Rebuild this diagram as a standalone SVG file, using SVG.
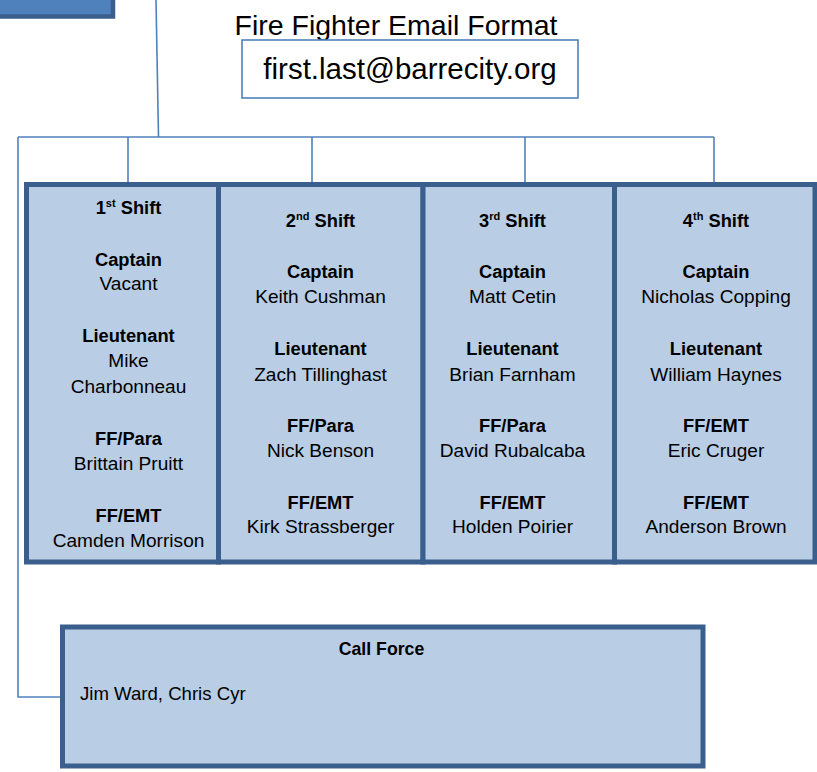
<svg xmlns="http://www.w3.org/2000/svg" width="817" height="772" viewBox="0 0 817 772">
<style>
.conn{fill:none;stroke:#4f81bd;stroke-width:1.6}
.shift{fill:#b9cde5;stroke:#3b5f8d;stroke-width:5}
.t{font-family:"Liberation Sans",Arial,sans-serif;fill:#000;text-anchor:middle}
.b{font-weight:bold;font-size:18.3px}
.n{font-size:19.1px}
.sup{font-size:11px}
</style>
<rect width="817" height="772" fill="#fff"/>
<g id="top-box">
<rect x="-10" y="-10" width="123" height="26.5" fill="#4f81bd" stroke="#3b5f8d" stroke-width="4.5"/>
</g>
<g id="connectors">
<path class="conn" d="M156,0 L158.5,137"/>
<path class="conn" d="M18,137 H714"/>
<path class="conn" d="M128,137 V183"/>
<path class="conn" d="M312,137 V183"/>
<path class="conn" d="M525,137 V183"/>
<path class="conn" d="M714,137 V183"/>
<path class="conn" d="M18,137 V697 H61"/>
</g>
<g id="email-title">
<text class="t" x="396" y="35" font-size="28.5">Fire Fighter Email Format</text>
</g>
<g id="email-box">
<rect x="242" y="40" width="336" height="58" fill="#fff" stroke="#4f81bd" stroke-width="1.6"/>
<text class="t" x="410" y="79" font-size="29.5">first.last@barrecity.org</text>
</g>
<g id="shift1">
<rect class="shift" x="26.5" y="184.5" width="192" height="377.5"/>
<text class="t b" x="128.5" y="214">1<tspan class="sup" dy="-7">st</tspan><tspan dy="7"> Shift</tspan></text>
<text class="t b" x="128.5" y="266">Captain</text>
<text class="t n" x="128.5" y="290">Vacant</text>
<text class="t b" x="128.5" y="342">Lieutenant</text>
<text class="t n" x="128.5" y="367">Mike</text>
<text class="t n" x="128.5" y="393">Charbonneau</text>
<text class="t b" x="128.5" y="445">FF/Para</text>
<text class="t n" x="128.5" y="470">Brittain Pruitt</text>
<text class="t b" x="128.5" y="522">FF/EMT</text>
<text class="t n" x="128.5" y="547">Camden Morrison</text>
</g>
<g id="shift2">
<rect class="shift" x="218.5" y="184.5" width="204.5" height="377.5"/>
<text class="t b" x="320.5" y="227">2<tspan class="sup" dy="-7">nd</tspan><tspan dy="7"> Shift</tspan></text>
<text class="t b" x="320.5" y="278">Captain</text>
<text class="t n" x="320.5" y="303">Keith Cushman</text>
<text class="t b" x="320.5" y="355">Lieutenant</text>
<text class="t n" x="320.5" y="381">Zach Tillinghast</text>
<text class="t b" x="320.5" y="432">FF/Para</text>
<text class="t n" x="320.5" y="457">Nick Benson</text>
<text class="t b" x="320.5" y="509">FF/EMT</text>
<text class="t n" x="320.5" y="533">Kirk Strassberger</text>
</g>
<g id="shift3">
<rect class="shift" x="423" y="184.5" width="191.5" height="377.5"/>
<text class="t b" x="512.5" y="227">3<tspan class="sup" dy="-7">rd</tspan><tspan dy="7"> Shift</tspan></text>
<text class="t b" x="512.5" y="278">Captain</text>
<text class="t n" x="512.5" y="303">Matt Cetin</text>
<text class="t b" x="512.5" y="355">Lieutenant</text>
<text class="t n" x="512.5" y="381">Brian Farnham</text>
<text class="t b" x="512.5" y="432">FF/Para</text>
<text class="t n" x="512.5" y="457">David Rubalcaba</text>
<text class="t b" x="512.5" y="509">FF/EMT</text>
<text class="t n" x="512.5" y="533">Holden Poirier</text>
</g>
<g id="shift4">
<rect class="shift" x="614.5" y="184.5" width="200.5" height="377.5"/>
<text class="t b" x="716" y="227">4<tspan class="sup" dy="-7">th</tspan><tspan dy="7"> Shift</tspan></text>
<text class="t b" x="716" y="278">Captain</text>
<text class="t n" x="716" y="303">Nicholas Copping</text>
<text class="t b" x="716" y="355">Lieutenant</text>
<text class="t n" x="716" y="381">William Haynes</text>
<text class="t b" x="716" y="432">FF/EMT</text>
<text class="t n" x="716" y="457">Eric Cruger</text>
<text class="t b" x="716" y="509">FF/EMT</text>
<text class="t n" x="716" y="533">Anderson Brown</text>
</g>
<g id="call-force">
<rect x="62.5" y="627" width="640.5" height="139" fill="#b9cde5" stroke="#3b5f8d" stroke-width="5"/>
<text class="t" x="381.5" y="655" font-size="17.7" font-weight="bold">Call Force</text>
<text class="t" x="80" y="700" font-size="18.6" style="text-anchor:start">Jim Ward, Chris Cyr</text>
</g>
</svg>
